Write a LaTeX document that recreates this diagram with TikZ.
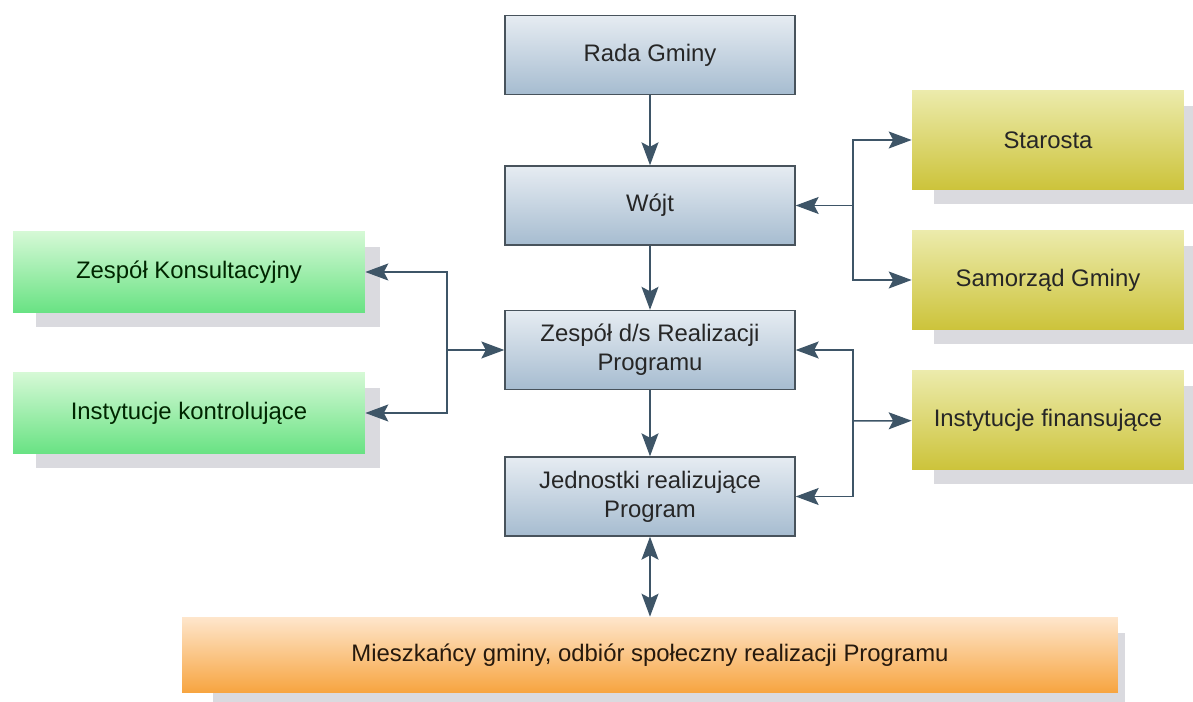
\documentclass[tikz,border=0pt]{standalone}
\usepackage{fontspec}
\setmainfont{Liberation Sans}
\usepackage{tikz}
\usetikzlibrary{arrows.meta,shadows,positioning}

\definecolor{linia}{HTML}{3E5567}
\definecolor{ramka}{HTML}{48535C}
\definecolor{cien}{HTML}{DADADF}
\definecolor{niebGora}{HTML}{E6ECF2}
\definecolor{niebDol}{HTML}{A6BCD0}
\definecolor{zoltGora}{HTML}{ECEBAC}
\definecolor{zoltDol}{HTML}{CCC33A}
\definecolor{ziemGora}{HTML}{D6F9D6}
\definecolor{ziemDol}{HTML}{68E283}
\definecolor{pomGora}{HTML}{FEE6CC}
\definecolor{pomDol}{HTML}{F7A43F}

\tikzstyle{cienik} = [drop shadow={shadow xshift=0.39cm, shadow yshift=-0.31cm,
    shadow scale=0.975, fill=cien, opacity=1}]
\tikzstyle{organ} = [rectangle, draw=ramka, line width=0.8pt, top color=niebGora,
    bottom color=niebDol, minimum width=5.8cm, minimum height=1.58cm,
    align=center, text=black!85, font=\fontsize{13.6}{16.5}\selectfont]
\tikzstyle{zewn} = [rectangle, cienik, top color=zoltGora, bottom color=zoltDol,
    minimum width=5.44cm, minimum height=2cm,
    text=black!85, font=\fontsize{13.6}{16.5}\selectfont]
\tikzstyle{kontr} = [rectangle, cienik, top color=ziemGora, bottom color=ziemDol,
    minimum width=7.04cm, minimum height=1.64cm,
    text=black!75!green!60!black, font=\fontsize{13.6}{16.5}\selectfont]
\tikzstyle{spol} = [rectangle, cienik, top color=pomGora, bottom color=pomDol,
    minimum width=18.72cm, minimum height=1.52cm,
    text=black!80!brown, font=\fontsize{13.6}{16.5}\selectfont]
\tikzstyle{arrow} = [linia, line width=0.85pt, -{Stealth[length=0.46cm, width=0.34cm, inset=0.09cm]}]
\tikzstyle{arrow2} = [linia, line width=0.85pt, {Stealth[length=0.46cm, width=0.34cm, inset=0.09cm]}-{Stealth[length=0.46cm, width=0.34cm, inset=0.09cm]}]

\begin{document}
\begin{tikzpicture}[x=0.02cm, y=-0.02cm]
\useasboundingbox (0,0) rectangle (1193,702);

% srodkowa kolumna
\node[organ] (rada) at (650,55) {Rada Gminy};
\node[organ] (wojt) at (650,205.5) {Wójt};
\node[organ] (zespol) at (650,350) {Zespół d/s Realizacji\\Programu};
\node[organ] (jednostki) at (650,496.5) {Jednostki realizujące\\Program};

% prawa strona
\node[zewn] (starosta) at (1048,140) {Starosta};
\node[zewn] (samorzad) at (1048,280) {Samorząd Gminy};
\node[zewn] (finanse) at (1048,420) {Instytucje finansujące};

% lewa strona
\node[kontr] (konsult) at (189,272) {Zespół Konsultacyjny};
\node[kontr] (kontrola) at (189,413) {Instytucje kontrolujące};

% dol
\node[spol] (mieszkancy) at (650,655) {Mieszkańcy gminy, odbiór społeczny realizacji Programu};

\coordinate (jw) at (853,205.5);
\coordinate (jz) at (447,350);
\coordinate (jf) at (853,421);

\draw[arrow] (rada) -- (wojt);
\draw[arrow] (wojt) -- (zespol);
\draw[arrow] (zespol) -- (jednostki);
\draw[arrow2] (jednostki) -- (mieszkancy);

\draw[arrow] (jw) -- (wojt.east);
\draw[arrow] (jw) |- (starosta);
\draw[arrow] (jw) |- (samorzad);

\draw[arrow] (jz) -- (zespol.west);
\draw[arrow] (jz) |- (konsult);
\draw[arrow] (jz) |- (kontrola);

\draw[arrow] (jf) -- (finanse);
\draw[arrow] (jf) |- (zespol);
\draw[arrow] (jf) |- (jednostki);
\end{tikzpicture}
\end{document}
